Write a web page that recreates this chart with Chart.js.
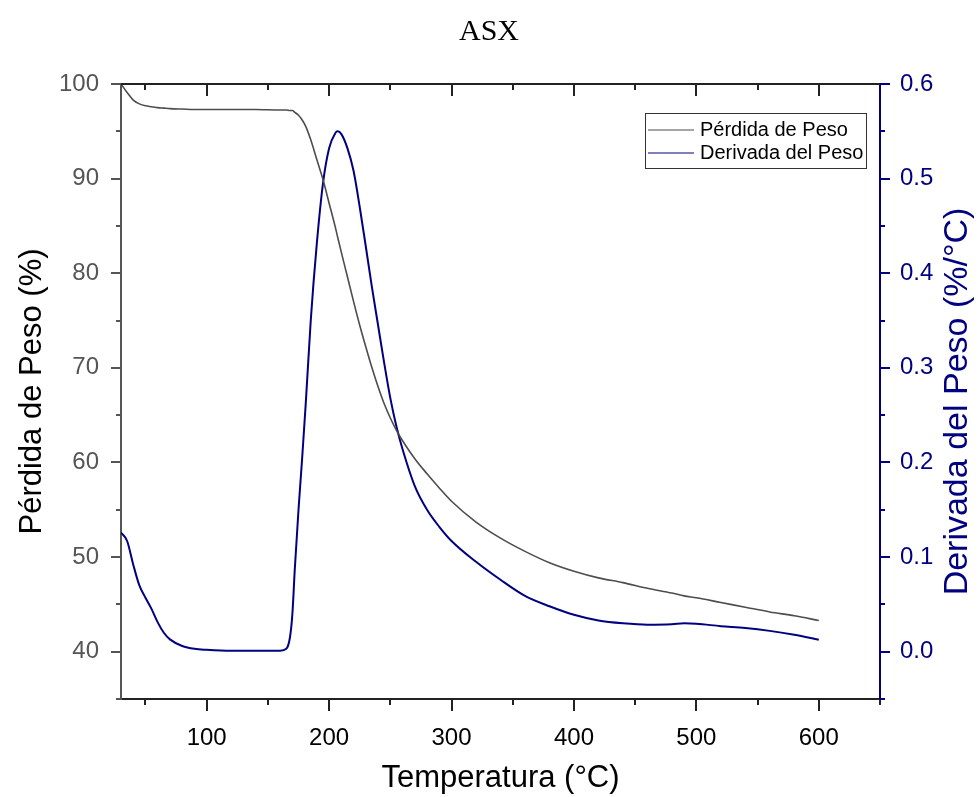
<!DOCTYPE html>
<html>
<head>
<meta charset="utf-8">
<title>ASX</title>
<script src="https://cdn.jsdelivr.net/npm/chart.js@4.4.1/dist/chart.umd.min.js"></script>
<style>
  html, body { margin: 0; padding: 0; background: #fff; }
  #wrap { width: 978px; height: 797px; }
</style>
</head>
<body>
<div id="wrap"><canvas id="tgaChart" width="978" height="797"></canvas></div>
<script>
// Temperatura (°C)
const temperatura = [
  30, 35, 40, 45, 50, 55, 60, 65, 70, 80, 90, 100, 120, 140, 160, 165, 168, 170,
  172, 175, 178, 181, 185, 190, 195, 200, 205, 207, 210, 215, 220, 225, 230, 235,
  240, 245, 250, 255, 260, 270, 280, 290, 300, 320, 340, 360, 380, 400, 420, 440,
  460, 480, 490, 500, 520, 540, 560, 580, 600
];

// Pérdida de Peso (%)
const perdidaPeso = [
  100.0, 99.1, 98.3, 97.9, 97.7, 97.6, 97.5, 97.45, 97.4, 97.35, 97.3, 97.3, 97.3, 97.3, 97.25, 97.25, 97.2, 97.2,
  97.0, 96.7, 96.2, 95.5, 94.1, 92.0, 89.9, 87.4, 84.9, 83.8, 82.2, 79.6, 77.0, 74.5, 72.2, 70.0,
  68.0, 66.2, 64.7, 63.4, 62.3, 60.4, 58.8, 57.3, 55.9, 53.7, 52.0, 50.6, 49.4, 48.5, 47.8, 47.3,
  46.7, 46.2, 45.9, 45.7, 45.2, 44.7, 44.2, 43.8, 43.3
];

// Derivada del Peso (%/°C)
const derivadaPeso = [
  0.126, 0.117, 0.092, 0.070, 0.057, 0.045, 0.031, 0.020, 0.013, 0.006, 0.003, 0.002, 0.001, 0.001, 0.001, 0.003, 0.015, 0.040,
  0.088, 0.150, 0.205, 0.264, 0.350, 0.432, 0.495, 0.532, 0.548, 0.550, 0.547, 0.532, 0.508, 0.470, 0.428, 0.385,
  0.345, 0.305, 0.268, 0.238, 0.214, 0.175, 0.150, 0.132, 0.117, 0.095, 0.076, 0.059, 0.048, 0.039, 0.033, 0.030,
  0.0285, 0.029, 0.030, 0.0295, 0.027, 0.025, 0.022, 0.018, 0.0127
];

// ticks (empty label = minor tick)
const xTickValues = [50, 100, 150, 200, 250, 300, 350, 400, 450, 500, 550, 600, 650];
const xTickLabels = ["", "100", "", "200", "", "300", "", "400", "", "500", "", "600", ""];
const leftTickValues = [35, 40, 45, 50, 55, 60, 65, 70, 75, 80, 85, 90, 95, 100];
const leftTickLabels = ["", "40", "", "50", "", "60", "", "70", "", "80", "", "90", "", "100"];
const rightTickValues = [-0.05, 0, 0.05, 0.1, 0.15, 0.2, 0.25, 0.3, 0.35, 0.4, 0.45, 0.5, 0.55, 0.6];
const rightTickLabels = ["", "0.0", "", "0.1", "", "0.2", "", "0.3", "", "0.4", "", "0.5", "", "0.6"];

const SANS = "'Liberation Sans', Arial, sans-serif";
const NAVY = "#000080";
const GRAY_LINE = "#4d4d4d";

function toPoints(values) {
  return temperatura.map((t, i) => ({ x: t, y: values[i] }));
}

function setTicks(values) {
  return (scale) => {
    scale.ticks = values.map((v) => ({ value: v }));
  };
}

// marcas de los ejes, borde superior, leyenda y título derecho
const decorPlugin = {
  id: "decor",
  afterDraw(chart) {
    const { ctx, chartArea } = chart;
    const sx = chart.scales.x;
    const sl = chart.scales.y;
    const sr = chart.scales.y2;

    function seg(x1, y1, x2, y2) {
      ctx.beginPath();
      ctx.moveTo(x1, y1);
      ctx.lineTo(x2, y2);
      ctx.stroke();
    }

    ctx.save();
    ctx.lineWidth = 2;
    ctx.lineCap = "butt";

    // borde superior
    ctx.strokeStyle = "#222";
    seg(chartArea.left - 1, chartArea.top, chartArea.right, chartArea.top);

    sx.ticks.forEach((t, i) => {
      const px = Math.round(sx.getPixelForValue(t.value));
      const len = xTickLabels[i] ? 12 : 6;
      seg(px, chartArea.bottom, px, chartArea.bottom + len);
      if (t.value < 650) seg(px, chartArea.top, px, chartArea.top + len);
    });

    ctx.strokeStyle = "#555";
    sl.ticks.forEach((t, i) => {
      const py = Math.round(sl.getPixelForValue(t.value));
      const len = leftTickLabels[i] ? 10 : 5;
      seg(chartArea.left, py, chartArea.left - len, py);
    });

    ctx.strokeStyle = NAVY;
    sr.ticks.forEach((t, i) => {
      const py = Math.round(sr.getPixelForValue(t.value));
      const len = rightTickLabels[i] ? 10 : 5;
      seg(chartArea.right, py, chartArea.right + len, py);
    });

    // título del eje derecho (de abajo hacia arriba)
    ctx.save();
    ctx.translate(958, (chartArea.top + chartArea.bottom) / 2 + 10);
    ctx.rotate(-Math.PI / 2);
    ctx.fillStyle = NAVY;
    ctx.font = "34px " + SANS;
    ctx.textAlign = "center";
    ctx.textBaseline = "middle";
    ctx.fillText("Derivada del Peso (%/°C)", 0, 0);
    ctx.restore();

    // leyenda
    const lx = chartArea.right - 235;
    const ly = chartArea.top + 29;
    ctx.lineWidth = 1;
    ctx.strokeStyle = "#333";
    ctx.strokeRect(lx + 0.5, ly + 0.5, 221, 55);
    ctx.font = "20px " + SANS;
    ctx.textAlign = "left";
    ctx.textBaseline = "middle";
    chart.data.datasets.forEach((ds, i) => {
      const ry = ly + 17 + i * 23;
      ctx.strokeStyle = ds.borderColor;
      ctx.lineWidth = 1;
      seg(lx + 3, ry, lx + 49, ry);
      ctx.fillStyle = "#000";
      ctx.fillText(ds.label, lx + 55, ry);
    });

    ctx.restore();
  }
};

new Chart(document.getElementById("tgaChart"), {
  type: "line",
  data: {
    datasets: [
      {
        label: "Pérdida de Peso",
        data: toPoints(perdidaPeso),
        yAxisID: "y",
        borderColor: GRAY_LINE,
        borderWidth: 1.6,
        pointRadius: 0,
        cubicInterpolationMode: "monotone"
      },
      {
        label: "Derivada del Peso",
        data: toPoints(derivadaPeso),
        yAxisID: "y2",
        borderColor: NAVY,
        borderWidth: 2,
        pointRadius: 0,
        cubicInterpolationMode: "monotone"
      }
    ]
  },
  options: {
    responsive: false,
    animation: false,
    devicePixelRatio: 1,
    layout: { padding: 0 },
    plugins: {
      legend: { display: false },
      tooltip: { enabled: false },
      title: {
        display: true,
        text: "ASX",
        color: "#000",
        font: { family: "'Liberation Serif', 'Times New Roman', serif", size: 30, weight: "normal" },
        padding: { top: 14, bottom: 34 }
      }
    },
    scales: {
      x: {
        type: "linear",
        position: "bottom",
        min: 30,
        max: 650,
        afterBuildTicks: setTicks(xTickValues),
        afterFit: (scale) => { scale.height = 98; },
        grid: { display: false, drawTicks: false },
        border: { display: true, color: "#222", width: 2 },
        ticks: {
          padding: 25,
          color: "#000",
          font: { family: SANS, size: 24 },
          autoSkip: false,
          maxRotation: 0,
          callback: (value, index) => xTickLabels[index]
        },
        title: {
          display: true,
          text: "Temperatura (°C)",
          color: "#000",
          font: { family: SANS, size: 31 },
          padding: { top: 0, bottom: 0 }
        }
      },
      y: {
        type: "linear",
        position: "left",
        min: 35,
        max: 100,
        afterBuildTicks: setTicks(leftTickValues),
        afterFit: (scale) => { scale.width = 121; },
        grid: { display: false, drawTicks: false },
        border: { display: true, color: "#555", width: 2 },
        ticks: {
          padding: 22,
          color: "#555",
          font: { family: SANS, size: 24 },
          autoSkip: false,
          callback: (value, index) => leftTickLabels[index]
        },
        title: {
          display: true,
          text: "Pérdida de Peso (%)",
          color: "#000",
          font: { family: SANS, size: 31 },
          padding: { top: 14, bottom: 0 }
        }
      },
      y2: {
        type: "linear",
        position: "right",
        min: -0.05,
        max: 0.6,
        afterBuildTicks: setTicks(rightTickValues),
        afterFit: (scale) => { scale.width = 98; },
        grid: { display: false, drawTicks: false },
        border: { display: true, color: NAVY, width: 2 },
        ticks: {
          padding: 20,
          color: NAVY,
          font: { family: SANS, size: 24 },
          autoSkip: false,
          callback: (value, index) => rightTickLabels[index]
        }
      }
    }
  },
  plugins: [decorPlugin]
});
</script>
</body>
</html>
